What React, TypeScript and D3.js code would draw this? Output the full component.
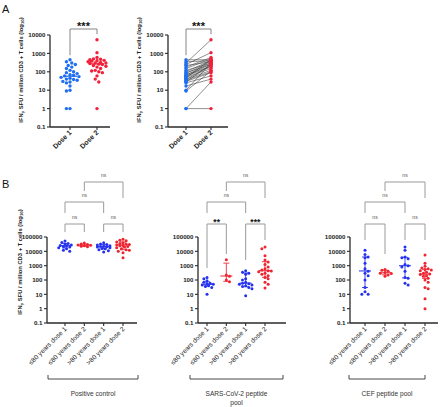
import React from 'react';
import * as d3 from 'd3';

const FONT = 'Arial, "Liberation Sans", Helvetica, sans-serif';

// ---------- Panel A data ----------
const doseCategories = ['Dose 1', 'Dose 2'];
const dose1Values = [450, 350, 300, 250, 220, 180, 150, 120, 100, 90, 80, 70, 65, 60, 55, 50, 45, 40, 38, 35, 30, 28, 25, 17, 10, 9, 1, 1];
const dose2Values = [450, 400, 5500, 1100, 350, 600, 500, 300, 420, 250, 380, 200, 320, 180, 280, 150, 480, 120, 220, 100, 90, 260, 60, 40, 300, 110, 28, 1];
const doseLegEnds = [800, 11000];
const doseSignificance = '***';
const aTickValues = [0.1, 1, 10, 100, 1000, 10000];
const aTickLabels = ['0.1', '1', '10', '100', '1000', '10000'];

// ---------- Panel B data ----------
const groupCategories = ['≤80 years dose 1', '≤80 years dose 2', '>80 years dose 1', '>80 years dose 2'];
const bTickValues = [0.1, 1, 10, 100, 1000, 10000, 100000];
const bTickLabels = ['0.1', '1', '10', '100', '1000', '10000', '100000'];

const positiveControl = [
  [52000, 42000, 35000, 32000, 28000, 26000, 25000, 22000, 20000, 18000, 15000, 12000, 10000],
  [38000, 33000, 30000, 28000, 27000, 25000, 23000, 21000],
  [40000, 33000, 30000, 28000, 25000, 23000, 22000, 21000, 20000, 18000, 16000, 15000, 13000, 11000, 9000],
  [70000, 60000, 55000, 45000, 40000, 35000, 32000, 30000, 28000, 26000, 25000, 22000, 20000, 18000, 15000, 13000, 12000, 10000, 8000, 3500],
];
const positiveMedian = [25000, 27000, 22000, 28000];
const positiveQ1 = [17000, 23000, 15000, 13000];
const positiveQ3 = [35000, 32000, 30000, 45000];
const positiveLegEnds = [220000, 220000, 220000, 220000];
const positiveSig = ['ns', 'ns', 'ns', 'ns'];

const sarsPool = [
  [150, 120, 90, 70, 60, 55, 50, 45, 40, 35, 30, 10],
  [2600, 220, 180, 100, 75],
  [450, 350, 300, 250, 120, 100, 70, 60, 55, 50, 45, 40, 35, 30, 25, 8],
  [20000, 15000, 5000, 2500, 1800, 1200, 800, 600, 500, 450, 420, 380, 300, 250, 200, 150, 120, 70, 50, 28],
];
const sarsMedian = [50, 190, 60, 450];
const sarsQ1 = [38, 80, 34, 155];
const sarsQ3 = [75, 1500, 310, 1900];
const sarsLegEnds = [690, 6500, 2500, 62000];
const sarsSig = ['**', '***', 'ns', 'ns'];

const cefPool = [
  [12000, 6000, 4000, 3500, 1500, 600, 400, 300, 200, 100, 30, 15, 10, 10],
  [550, 480, 400, 330, 300, 280, 220, 180],
  [20000, 12000, 4000, 3500, 3000, 1200, 1000, 800, 400, 150, 130, 60, 45],
  [5500, 1500, 900, 700, 600, 550, 500, 450, 350, 300, 260, 240, 200, 180, 130, 100, 70, 30, 25, 5, 1],
];
const cefMedian = [430, 320, 1000, 260];
const cefQ1 = [30, 230, 140, 130];
const cefQ3 = [4000, 480, 3800, 560];
const cefLegEnds = [62000, 6500, 62000, 62000];
const cefSig = ['ns', 'ns', 'ns', 'ns'];

const panelTitles = [['Positive control'], ['SARS-CoV-2 peptide', 'pool'], ['CEF peptide pool']];

// comparisons: pairs of group indexes and bracket level
const comparisonPairs = [[0, 1], [2, 3], [0, 2], [1, 3]];
const comparisonLevels = [0, 0, 1, 2];

// ---------- Styling ----------
const A_BLUE = '#1f6ef2';
const A_RED = '#f2203a';
const B_BLUE = '#2431ee';
const B_RED = '#ee2430';
const groupColors = [B_BLUE, B_RED, B_BLUE, B_RED];
const AXIS = '#2a2a2a';
const BRACKET = '#9a9a9a';

function swarmOffsets(ys: number[], r: number, maxOff: number): number[] {
  const order = ys.map((_, i) => i).sort((a, b) => ys[a] - ys[b]);
  const placed: [number, number][] = [];
  const out = new Array(ys.length).fill(0);
  const step = r * 1.05;
  const kMax = 2 * Math.floor(maxOff / step);
  order.forEach((i, n) => {
    const y = ys[i];
    let chosen: number | null = null;
    let bestCand = 0;
    let bestDist = -1;
    const flip = n % 2 === 0 ? 1 : -1;
    for (let k = 0; k <= kMax; k++) {
      const m = Math.ceil(k / 2);
      const cand = (k % 2 === 1 ? 1 : -1) * flip * m * step;
      let minD = Infinity;
      for (const [px, py] of placed) {
        const d = Math.hypot(px - cand, py - y);
        if (d < minD) minD = d;
      }
      if (minD >= 2 * r) {
        chosen = cand;
        break;
      }
      if (minD > bestDist) {
        bestDist = minD;
        bestCand = cand;
      }
    }
    const x = chosen ?? bestCand;
    out[i] = x;
    placed.push([x, y]);
  });
  return out;
}

function YTitle({ x, cy }: { x: number; cy: number }) {
  return (
    <text
      transform={`translate(${x},${cy}) rotate(-90)`}
      textAnchor="middle"
      fontSize={5.8}
      fontWeight="bold"
      fill="#222"
      fontFamily={FONT}
    >
      IFN
      <tspan dy={1.3} fontSize={4.3}>γ</tspan>
      <tspan dy={-1.3}> SFU / million CD3 + T cells (log</tspan>
      <tspan dy={1.3} fontSize={4.3}>10</tspan>
      <tspan dy={-1.3}>)</tspan>
    </text>
  );
}

function LogYAxis({ y, axisX, ticks, labels }: { y: d3.ScaleLogarithmic<number, number>; axisX: number; ticks: number[]; labels: string[] }) {
  const [r0, r1] = y.range();
  return (
    <g>
      <line x1={axisX} x2={axisX} y1={r0} y2={r1} stroke={AXIS} strokeWidth={1.3} />
      {ticks.map((t, i) => (
        <g key={i}>
          <line x1={axisX - 3} x2={axisX} y1={y(t)} y2={y(t)} stroke={AXIS} strokeWidth={1.1} />
          <text
            x={axisX - 4.5}
            y={y(t)}
            dy="0.35em"
            textAnchor="end"
            fontSize={6.2}
            fontWeight="bold"
            fill="#222"
            fontFamily={FONT}
          >
            {labels[i]}
          </text>
        </g>
      ))}
    </g>
  );
}

function PanelA({ axisX, c0, c1, end, paired, titleX }: { axisX: number; c0: number; c1: number; end: number; paired: boolean; titleX: number }) {
  const y = d3.scaleLog().domain([0.1, 10000]).range([127, 35]);
  const x = d3.scalePoint<string>().domain(doseCategories).range([c0, c1]);
  const series = [dose1Values, dose2Values];
  const colors = [A_BLUE, A_RED];
  const r = 1.7;
  const offsets = series.map((vals) => (paired ? vals.map(() => 0) : swarmOffsets(vals.map((v) => y(v)), r, 9)));
  const bottom = y.range()[0];
  const topY = 29;
  const xa = x(doseCategories[0])!;
  const xb = x(doseCategories[1])!;
  return (
    <g>
      <YTitle x={titleX} cy={70} />
      <LogYAxis y={y} axisX={axisX} ticks={aTickValues} labels={aTickLabels} />
      <line x1={axisX} x2={end} y1={bottom} y2={bottom} stroke={AXIS} strokeWidth={1.3} />
      {doseCategories.map((c) => (
        <g key={c}>
          <line x1={x(c)} x2={x(c)} y1={bottom} y2={bottom + 3} stroke={AXIS} strokeWidth={1.1} />
          <text
            transform={`translate(${x(c)! + 2},${bottom + 6}) rotate(-45)`}
            textAnchor="end"
            fontSize={7}
            fontWeight="bold"
            fill="#222"
            fontFamily={FONT}
          >
            {c}
          </text>
        </g>
      ))}
      {paired &&
        dose1Values.map((v, i) => (
          <line key={i} x1={xa} x2={xb} y1={y(v)} y2={y(dose2Values[i])} stroke="#444" strokeWidth={0.6} />
        ))}
      {!paired &&
        series.map((vals, s) => {
          const med = d3.median(vals)!;
          const cx = x(doseCategories[s])!;
          return <line key={`m${s}`} x1={cx - 7} x2={cx + 7} y1={y(med)} y2={y(med)} stroke={colors[s]} strokeWidth={1.2} />;
        })}
      {series.map((vals, s) =>
        vals.map((v, i) => (
          <circle key={`${s}-${i}`} cx={x(doseCategories[s])! + offsets[s][i]} cy={y(v)} r={r} fill={colors[s]} />
        ))
      )}
      <path
        d={`M${xa},${y(doseLegEnds[0])}V${topY}H${xb}V${y(doseLegEnds[1])}`}
        fill="none"
        stroke="#777"
        strokeWidth={0.9}
      />
      <text x={(xa + xb) / 2} y={29.5} textAnchor="middle" fontSize={11} fontWeight="bold" fill="#111" fontFamily={FONT}>
        {doseSignificance}
      </text>
    </g>
  );
}

type BLayout = { axisX: number; x0: number; x1: number; end: number; br0: number; br1: number };

function PanelB({
  layout,
  data,
  medians,
  q1s,
  q3s,
  legEnds,
  sigs,
  title,
  showYTitle,
}: {
  layout: BLayout;
  data: number[][];
  medians: number[];
  q1s: number[];
  q3s: number[];
  legEnds: number[];
  sigs: string[];
  title: string[];
  showYTitle: boolean;
}) {
  const y = d3.scaleLog().domain([0.1, 100000]).range([323, 237]);
  const x = d3.scalePoint<string>().domain(groupCategories).range([layout.x0, layout.x1]);
  const bottom = y.range()[0];
  const r = 1.5;
  const levelTops = [224, 202, 182];
  const level1Bottom = 213;
  const level2Bottoms = [191, 198];
  return (
    <g>
      {showYTitle && <YTitle x={22} cy={262} />}
      <LogYAxis y={y} axisX={layout.axisX} ticks={bTickValues} labels={bTickLabels} />
      <line x1={layout.axisX} x2={layout.end} y1={bottom} y2={bottom} stroke={AXIS} strokeWidth={1.3} />
      {groupCategories.map((c) => (
        <g key={c}>
          <line x1={x(c)} x2={x(c)} y1={bottom} y2={bottom + 3} stroke={AXIS} strokeWidth={1.1} />
          <text
            transform={`translate(${x(c)! + 2},${bottom + 6.5}) rotate(-45)`}
            textAnchor="end"
            fontSize={6.6}
            fill="#222"
            fontFamily={FONT}
          >
            {c}
          </text>
        </g>
      ))}
      {comparisonPairs.map(([a, b], k) => {
        const lvl = comparisonLevels[k];
        const top = levelTops[lvl];
        const xa = x(groupCategories[a])!;
        const xb = x(groupCategories[b])!;
        let ya: number;
        let yb: number;
        if (lvl === 0) {
          ya = y(legEnds[a]);
          yb = y(legEnds[b]);
        } else if (lvl === 1) {
          ya = level1Bottom;
          yb = level1Bottom;
        } else {
          ya = level2Bottoms[0];
          yb = level2Bottoms[1];
        }
        const sig = sigs[k];
        const isNs = sig === 'ns';
        return (
          <g key={k}>
            <path d={`M${xa},${ya}V${top}H${xb}V${yb}`} fill="none" stroke={BRACKET} strokeWidth={1} />
            <text
              x={(xa + xb) / 2}
              y={isNs ? top - 4.7 : top + 1}
              textAnchor="middle"
              fontSize={isNs ? 5 : 8.5}
              fontWeight={isNs ? 'normal' : 'bold'}
              fill={isNs ? '#555' : '#111'}
              fontFamily={FONT}
            >
              {sig}
            </text>
          </g>
        );
      })}
      {groupCategories.map((c, g) => {
        const cx = x(c)!;
        const col = groupColors[g];
        return (
          <g key={`e${g}`} stroke={col} strokeWidth={1} opacity={0.85}>
            <line x1={cx} x2={cx} y1={y(q1s[g])} y2={y(q3s[g])} />
            <line x1={cx - 3} x2={cx + 3} y1={y(q1s[g])} y2={y(q1s[g])} />
            <line x1={cx - 3} x2={cx + 3} y1={y(q3s[g])} y2={y(q3s[g])} />
            <line x1={cx - 6} x2={cx + 6} y1={y(medians[g])} y2={y(medians[g])} strokeWidth={1.2} />
          </g>
        );
      })}
      {data.map((vals, g) => {
        const offs = swarmOffsets(vals.map((v) => y(v)), r, 7);
        const cx = x(groupCategories[g])!;
        return vals.map((v, i) => <circle key={`${g}-${i}`} cx={cx + offs[i]} cy={y(v)} r={r} fill={groupColors[g]} />);
      })}
      <path d={`M${layout.br0},375V379H${layout.br1}V375`} fill="none" stroke="#333" strokeWidth={0.9} />
      {title.map((t, i) => (
        <text
          key={i}
          x={(layout.br0 + layout.br1) / 2}
          y={396 + i * 8.5}
          textAnchor="middle"
          fontSize={6.6}
          fill="#333"
          fontFamily={FONT}
        >
          {t}
        </text>
      ))}
    </g>
  );
}

export default function App() {
  const bLayouts: BLayout[] = [
    { axisX: 47, x0: 65, x1: 123, end: 137, br0: 48, br1: 138 },
    { axisX: 198, x0: 207, x1: 265, end: 286, br0: 190, br1: 283 },
    { axisX: 350, x0: 365, x1: 425, end: 438, br0: 349, br1: 425 },
  ];
  return (
    <svg
      width={440}
      height={407}
      viewBox="0 0 440 407"
      style={{ position: 'absolute', left: 0, top: 0, background: '#fff' }}
      fontFamily={FONT}
    >
      <rect width={440} height={407} fill="#fff" />
      <text x={2} y={13} fontSize={11} fill="#111">A</text>
      <text x={2} y={188} fontSize={11} fill="#111">B</text>
      <PanelA axisX={50} c0={70} c1={97} end={110} paired={false} titleX={23} />
      <PanelA axisX={168} c0={186} c1={211} end={228} paired={true} titleX={141} />
      <PanelB
        layout={bLayouts[0]}
        data={positiveControl}
        medians={positiveMedian}
        q1s={positiveQ1}
        q3s={positiveQ3}
        legEnds={positiveLegEnds}
        sigs={positiveSig}
        title={panelTitles[0]}
        showYTitle={true}
      />
      <PanelB
        layout={bLayouts[1]}
        data={sarsPool}
        medians={sarsMedian}
        q1s={sarsQ1}
        q3s={sarsQ3}
        legEnds={sarsLegEnds}
        sigs={sarsSig}
        title={panelTitles[1]}
        showYTitle={false}
      />
      <PanelB
        layout={bLayouts[2]}
        data={cefPool}
        medians={cefMedian}
        q1s={cefQ1}
        q3s={cefQ3}
        legEnds={cefLegEnds}
        sigs={cefSig}
        title={panelTitles[2]}
        showYTitle={false}
      />
    </svg>
  );
}
